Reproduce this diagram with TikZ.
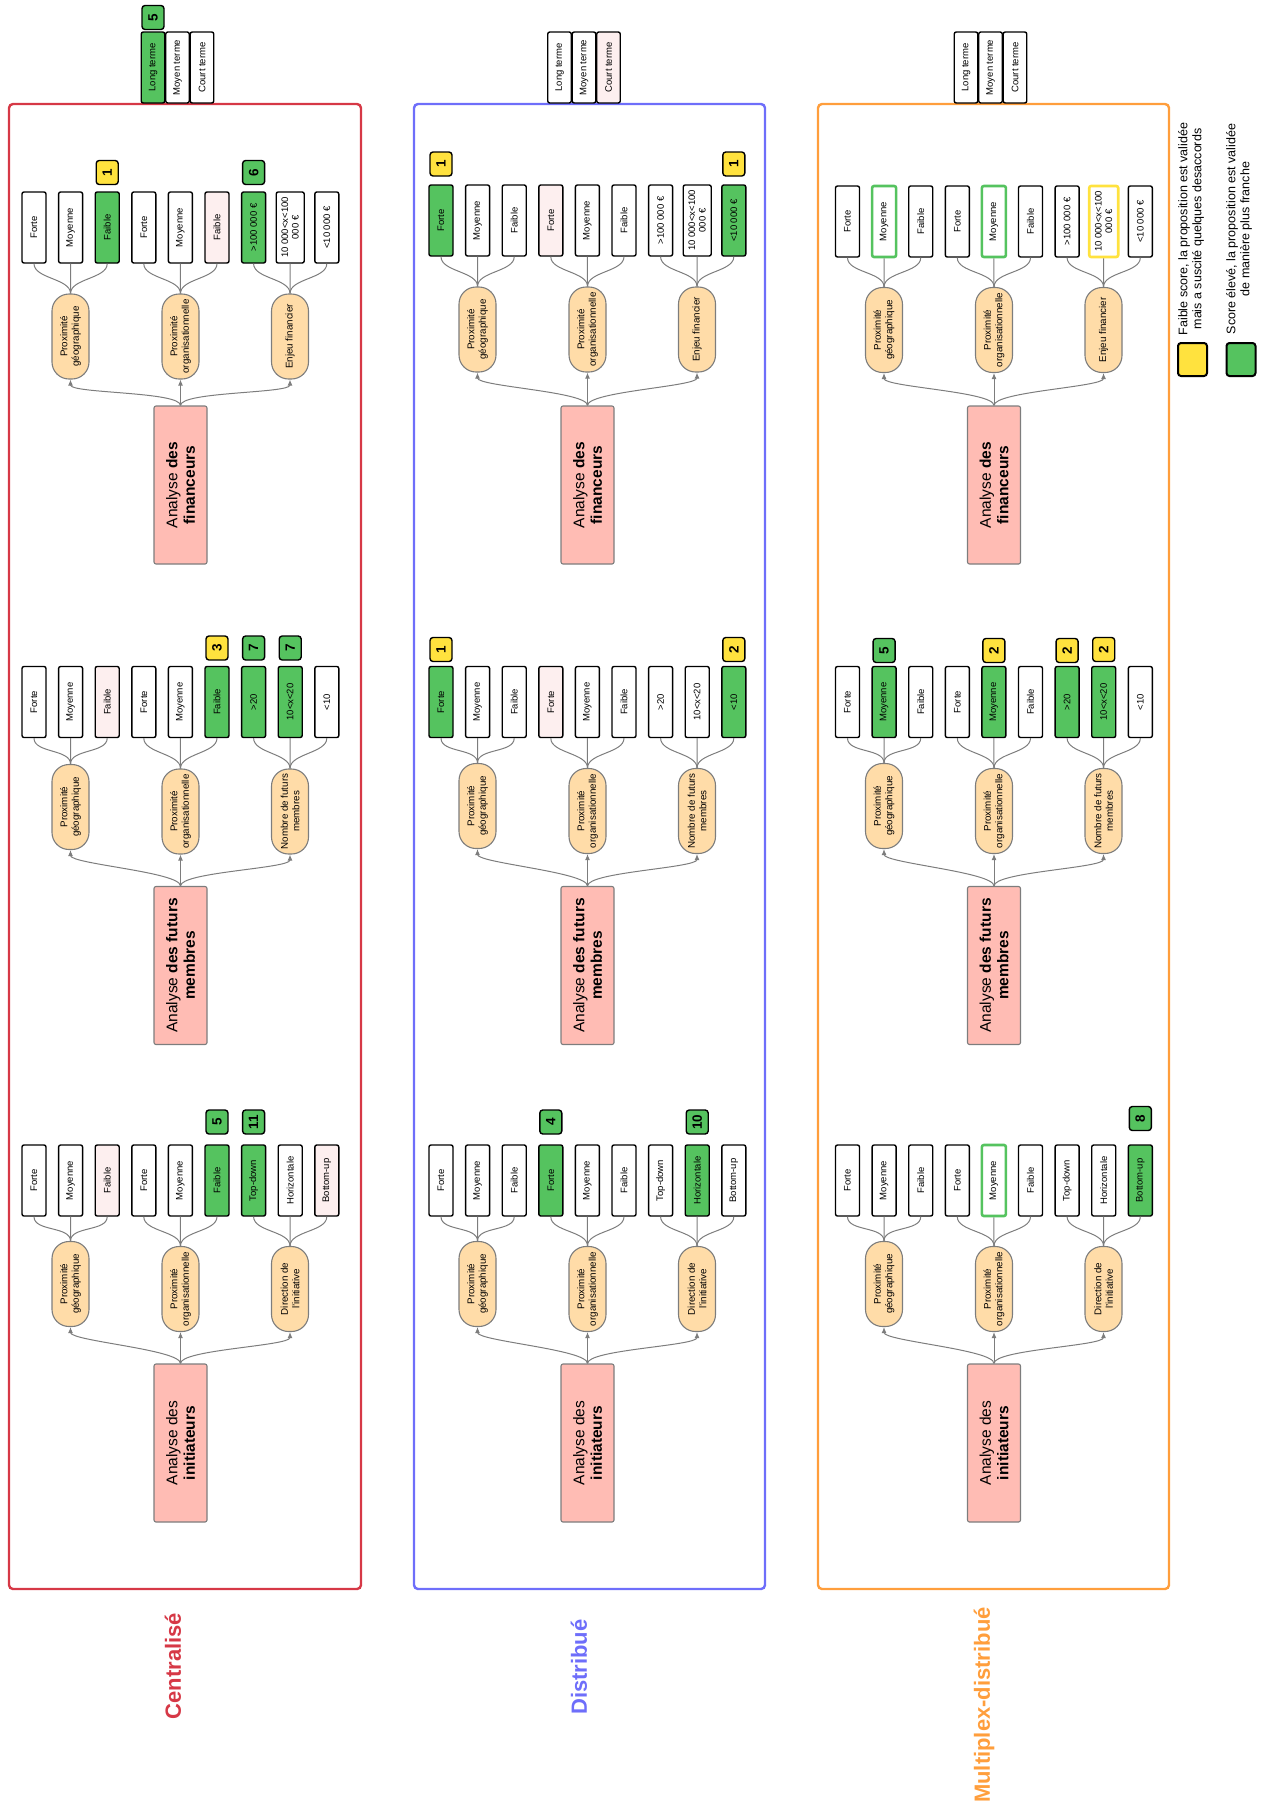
\documentclass[tikz,border=0pt]{standalone}
\usepackage{fontspec}
\setmainfont{Liberation Sans}
\usetikzlibrary{arrows.meta}
\definecolor{cred}{RGB}{214,56,70}
\definecolor{cblue}{RGB}{110,110,250}
\definecolor{corange}{RGB}{255,158,60}
\definecolor{cgreen}{RGB}{85,195,95}
\definecolor{cyellow}{RGB}{255,226,62}
\definecolor{cpink}{RGB}{253,239,239}
\definecolor{cpeach}{RGB}{255,220,168}
\definecolor{csalmon}{RGB}{255,188,180}
\definecolor{cgray}{RGB}{125,125,125}

\tikzset{
 leaf/.style={rotate=90, draw=black, line width=1.4pt, rounded corners=2pt, minimum width=71pt, minimum height=24pt, inner sep=1pt, align=center, font=\fontsize{9.5}{10.5}\selectfont},
 lfw/.style={fill=white},
 lfp/.style={fill=cpink},
 lfg/.style={fill=cgreen},
 lfG/.style={fill=white, draw=cgreen, line width=2.6pt},
 lfY/.style={fill=white, draw=cyellow, line width=2.6pt},
 lfwW/.style={fill=white, minimum height=28pt},
 lfYW/.style={lfY, minimum height=29pt},
 midbox/.style={rotate=90, draw=cgray, fill=cpeach, line width=1.1pt, rounded corners=17pt, minimum width=85pt, minimum height=37pt, inner sep=1pt, align=center, font=\fontsize{9.8}{11.5}\selectfont},
 rootbox/.style={rotate=90, draw=cgray, fill=csalmon, line width=1.1pt, rounded corners=2pt, minimum width=158pt, minimum height=53pt, align=center, font=\fontsize{15.5}{17.5}\selectfont},
 badge/.style={rotate=90, draw=black, line width=1.4pt, rounded corners=3pt, minimum width=24pt, minimum height=22pt, inner sep=0pt, font=\fontsize{13.5}{14}\selectfont\bfseries},
 termebox/.style={rotate=90, draw=black, line width=1.4pt, rounded corners=2pt, minimum width=71pt, minimum height=23.5pt, inner sep=1pt, font=\fontsize{9.5}{10.5}\selectfont},
 conn/.style={draw=cgray, line width=1pt},
 arr/.style={conn, -{Latex[length=6pt,width=5pt]}},
 panelframe/.style={line width=2.4pt, rounded corners=4pt},
 panellabel/.style={rotate=90, font=\fontsize{22}{24}\selectfont\bfseries},
 legtxt/.style={rotate=90, align=center, font=\fontsize{12.5}{14}\selectfont},
 legbox/.style={draw=black, line width=2pt, rounded corners=3pt, minimum width=29pt, minimum height=33pt},
}

\def\ltfa{>100 000 €}
\def\ltfb{10 000<x<100\\000 €}
\def\ltfc{<10 000 €}
\def\ltua{>20}
\def\ltub{10<x<20}
\def\ltuc{<10}
\def\ltna{Top-down}
\def\ltnb{Horizontale}
\def\ltnc{Bottom-up}
\def\mtf{Enjeu financier}
\def\mtu{Nombre de futurs\\membres}
\def\mtn{Direction de\\l'initiative}

\newcommand{\leaftxt}[2]{\ifcase#2\or Forte\or Moyenne\or Faible\or Forte\or Moyenne\or Faible\or\csname lt#1a\endcsname\or\csname lt#1b\endcsname\or\csname lt#1c\endcsname\fi}

% #1 prefix, #2 x offset, #3 leaf y, #4 mid1 y, #5 mid2/3 y, #6 root y, #7 type, #8 styles, #9 root text
\newcommand{\mksect}[9]{%
 \foreach \s [count=\i] in {#8} {
   \node[leaf,\s] (#1l\i) at ({#2+34+36.6*(\i-1)},#3) {\leaftxt{#7}{\i}};
 }
 \node[midbox] (#1m1) at ({#2+70.5},#4) {Proximité\\géographique};
 \node[midbox] (#1m2) at ({#2+180.5},#5) {Proximité\\organisationnelle};
 \node[midbox] (#1m3) at ({#2+290},#5) {\csname mt#7\endcsname};
 \node[rootbox] (#1r) at ({#2+180.5},#6) {#9};
 \foreach \j/\pa/\pb/\pc in {1/1/2/3,2/4/5/6,3/7/8/9} {
   \draw[conn] (#1l\pa.west) .. controls +(0,15) and +(0,-15) .. (#1m\j.east);
   \draw[conn] (#1l\pb.west) -- (#1m\j.east);
   \draw[conn] (#1l\pc.west) .. controls +(0,15) and +(0,-15) .. (#1m\j.east);
 }
 \draw[arr] (#1r.east) .. controls +(0,-14) and +(0,14) .. (#1m1.west);
 \draw[arr] (#1r.east) -- (#1m2.west);
 \draw[arr] (#1r.east) .. controls +(0,-14) and +(0,14) .. (#1m3.west);
}

\newcommand{\bdg}[4]{\node[badge,fill=#3] (#1b) at ([yshift=#4pt]#1.center) {#2};}

\begin{document}
\begin{tikzpicture}[x=1pt,y=-1pt]
\useasboundingbox (0,0) rectangle (1266,1807);

% panel frames
\draw[panelframe,cred] (9,104) rectangle (361,1589);
\draw[panelframe,cblue] (414,104) rectangle (765,1589);
\draw[panelframe,corange] (818,104) rectangle (1169,1589);

% ---------- Centralisé ----------
\mksect{Rf}{0}{227.5}{336.5}{336.5}{485}{f}{lfw,lfw,lfg,lfw,lfw,lfp,lfg,lfwW,lfw}{Analyse \textbf{des}\\\textbf{financeurs}}
\mksect{Ru}{0}{702}{807}{811.5}{965.5}{u}{lfw,lfw,lfp,lfw,lfw,lfg,lfg,lfg,lfw}{Analyse \textbf{des futurs}\\\textbf{membres}}
\mksect{Rn}{0}{1180.5}{1284}{1289}{1443}{n}{lfw,lfw,lfp,lfw,lfw,lfg,lfg,lfw,lfp}{Analyse des\\\textbf{initiateurs}}
\bdg{Rfl3}{1}{cyellow}{55}
\bdg{Rfl7}{6}{cgreen}{55}
\bdg{Rul6}{3}{cyellow}{54}
\bdg{Rul7}{7}{cgreen}{54}
\bdg{Rul8}{7}{cgreen}{54}
\bdg{Rnl6}{5}{cgreen}{58.5}
\bdg{Rnl7}{11}{cgreen}{58.5}
\node[termebox,lfg] (Rt1) at (153,67.5) {Long terme};
\node[termebox,lfw] (Rt2) at (177.5,67.5) {Moyen terme};
\node[termebox,lfw] (Rt3) at (202,67.5) {Court terme};
\bdg{Rt1}{5}{cgreen}{50}

% ---------- Distribué ----------
\mksect{Bf}{407}{220.5}{329.5}{329.5}{485}{f}{lfg,lfw,lfw,lfp,lfw,lfw,lfw,lfwW,lfg}{Analyse \textbf{des}\\\textbf{financeurs}}
\mksect{Bu}{407}{702}{806}{811}{965.5}{u}{lfg,lfw,lfw,lfp,lfw,lfw,lfw,lfw,lfg}{Analyse \textbf{des futurs}\\\textbf{membres}}
\mksect{Bn}{407}{1180.5}{1284}{1289}{1443}{n}{lfw,lfw,lfw,lfg,lfw,lfw,lfw,lfg,lfw}{Analyse des\\\textbf{initiateurs}}
\bdg{Bfl1}{1}{cyellow}{56.5}
\bdg{Bfl9}{1}{cyellow}{56.5}
\bdg{Bul1}{1}{cyellow}{52.5}
\bdg{Bul9}{2}{cyellow}{52.5}
\bdg{Bnl4}{4}{cgreen}{58.5}
\bdg{Bnl8}{10}{cgreen}{58.5}
\node[termebox,lfw] (Bt1) at (559.5,67.5) {Long terme};
\node[termebox,lfw] (Bt2) at (584,67.5) {Moyen terme};
\node[termebox,lfp] (Bt3) at (608.5,67.5) {Court terme};

% ---------- Multiplex-distribué ----------
\mksect{Of}{813.5}{221.5}{330}{330}{485}{f}{lfw,lfG,lfw,lfw,lfG,lfw,lfw,lfYW,lfw}{Analyse \textbf{des}\\\textbf{financeurs}}
\mksect{Ou}{813.5}{702}{806}{811}{965.5}{u}{lfw,lfg,lfw,lfw,lfg,lfw,lfg,lfg,lfw}{Analyse \textbf{des futurs}\\\textbf{membres}}
\mksect{On}{813.5}{1180.5}{1284}{1289}{1443}{n}{lfw,lfw,lfw,lfw,lfG,lfw,lfw,lfw,lfg}{Analyse des\\\textbf{initiateurs}}
\bdg{Oul2}{5}{cgreen}{51.5}
\bdg{Oul5}{2}{cyellow}{51.5}
\bdg{Oul7}{2}{cyellow}{51.5}
\bdg{Oul8}{2}{cyellow}{52.5}
\bdg{Onl9}{8}{cgreen}{62}
\node[termebox,lfw] (Ot1) at (966,67.5) {Long terme};
\node[termebox,lfw] (Ot2) at (990.5,67.5) {Moyen terme};
\node[termebox,lfw] (Ot3) at (1015,67.5) {Court terme};

% panel labels
\node[panellabel,text=cred] (Lc) at (173,1666) {Centralisé};
\node[panellabel,text=cblue] (Ld) at (579,1667) {Distribué};
\node[panellabel,text=corange] (Lm) at (984,1705) {Multiplex-distribué};

% legend
\node[legbox,fill=cyellow] (ly) at (1192.5,359.5) {};
\node[legbox,fill=cgreen] (lg) at (1241,359.5) {};
\node[legtxt] (lyt) at (1191,229) {Faible score, la proposition est validée\\mais a suscité quelques desaccords};
\node[legtxt] (lgt) at (1239,229) {Score élevé, la proposition est validée\\de manière plus franche};
\end{tikzpicture}
\end{document}
